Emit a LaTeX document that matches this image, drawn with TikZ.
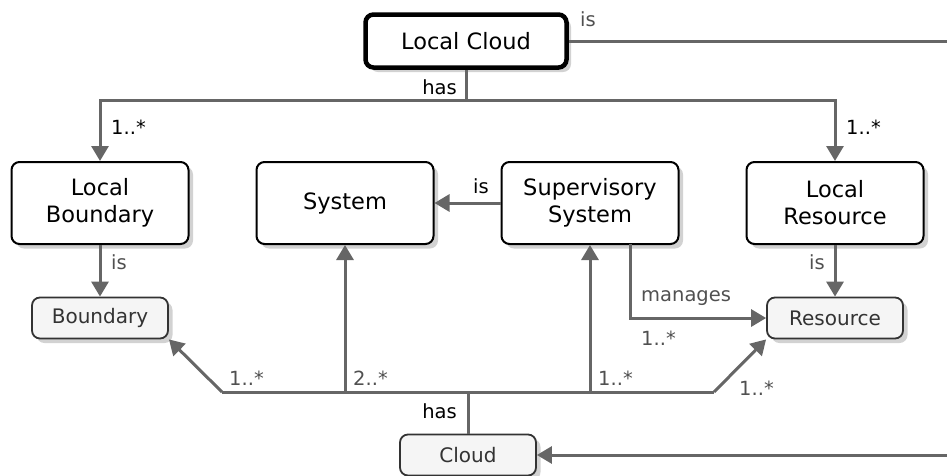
\documentclass[tikz,border=0pt]{standalone}
\usepackage{fontspec}
\setmainfont{DejaVu Sans}
\usetikzlibrary{arrows.meta,shadows,calc}
\definecolor{linegray}{HTML}{666666}
\definecolor{labgray}{HTML}{505050}
\definecolor{boxfill}{HTML}{F5F5F5}
\definecolor{boxtext}{HTML}{333333}
\definecolor{shade}{HTML}{D2D2D2}
\tikzset{
  shadowed/.style={drop shadow={shadow xshift=4.5pt,shadow yshift=-4.5pt,fill=shade,opacity=1}},
  concept/.style={shadowed,draw=black,line width=2pt,fill=white,rounded corners=8pt,
    minimum width=177pt,minimum height=82pt,inner sep=0pt,align=center,
    font=\fontsize{22.5}{27}\selectfont},
  topconcept/.style={concept,line width=4.5pt,minimum width=201pt,minimum height=53pt},
  basetype/.style={shadowed,draw=boxtext,line width=1.8pt,fill=boxfill,rounded corners=8pt,
    minimum width=136pt,minimum height=41pt,inner sep=0pt,text=boxtext,
    font=\fontsize{20}{24}\selectfont},
  link/.style={draw=linegray,line width=3pt},
  arr/.style={link,-{Triangle[length=15pt,width=17pt]}},
  lab/.style={font=\fontsize{19.5}{23}\selectfont,inner sep=0pt,text=black},
  glab/.style={lab,text=labgray},
}
\begin{document}
\begin{tikzpicture}[x=1pt,y=-1pt]
\useasboundingbox (0,0) rectangle (947,475);

% concepts
\node[topconcept] (LC) at (466,41) {Local Cloud};
\node[concept] (LB) at (100,203) {Local\\Boundary};
\node[concept] (Sys) at (345,203) {System};
\node[concept] (SS) at (590,203) {Supervisory\\System};
\node[concept] (LR) at (835,203) {Local\\Resource};

% base types
\node[basetype] (B) at (100,318) {Boundary};
\node[basetype] (R) at (835,318) {Resource};
\node[basetype] (Cl) at (468,455) {Cloud};

% junctions and off-page ends
\coordinate (hasTop) at (466,100);
\coordinate (hasBot) at (468,392);
\coordinate (bendL) at (222,392);
\coordinate (bendR) at (714,392);
\coordinate (mgStart) at (630,244);
\coordinate (outTop) at (950,41);
\coordinate (outBot) at (950,455);

% Local Cloud composition
\draw[link] (LC) -- (hasTop);
\draw[arr] (hasTop) -| (LB);
\draw[arr] (hasTop) -| (LR);
\node[lab,anchor=east] (hasA) at (457,87) {has};
\node[lab,anchor=west] (mA) at (111,127) {1..*};
\node[lab,anchor=west] (mB) at (846,127) {1..*};

% Local Cloud is a Cloud
\draw[link] (LC) -- (outTop);
\node[glab,anchor=west] (isLC) at (580,19) {is};
\draw[arr] (outBot) -- (Cl);

% specialisations
\draw[arr] (LB) -- (B);
\node[glab,anchor=west] (isLB) at (111,262) {is};
\draw[arr] (LR) -- (R);
\node[glab,anchor=east] (isLR) at (825,262) {is};
\draw[arr] (SS) -- (Sys);
\node[lab,anchor=center] (isSS) at (481,186) {is};

% supervisory system manages resources
\draw[arr] (mgStart) |- (R);
\node[glab,anchor=west] (mg) at (641,298) {manages};
\node[glab,anchor=west] (mgM) at (641,338) {1..*};

% Cloud composition
\draw[link] (Cl) -- (hasBot);
\node[lab,anchor=east] (hasB) at (457,411) {has};
\draw[link] (bendL) -- (bendR);
\draw[arr] (bendL) -- (B.south east);
\draw[arr] (bendR) -- (R.south west);
\draw[arr] (Sys |- hasBot) -- (Sys);
\draw[arr] (SS |- hasBot) -- (SS);
\node[glab,anchor=west] (m1) at (229,378) {1..*};
\node[glab,anchor=west] (m2) at (353,378) {2..*};
\node[glab,anchor=west] (m3) at (598,378) {1..*};
\node[glab,anchor=west] (m4) at (739,388) {1..*};
\end{tikzpicture}
\end{document}
